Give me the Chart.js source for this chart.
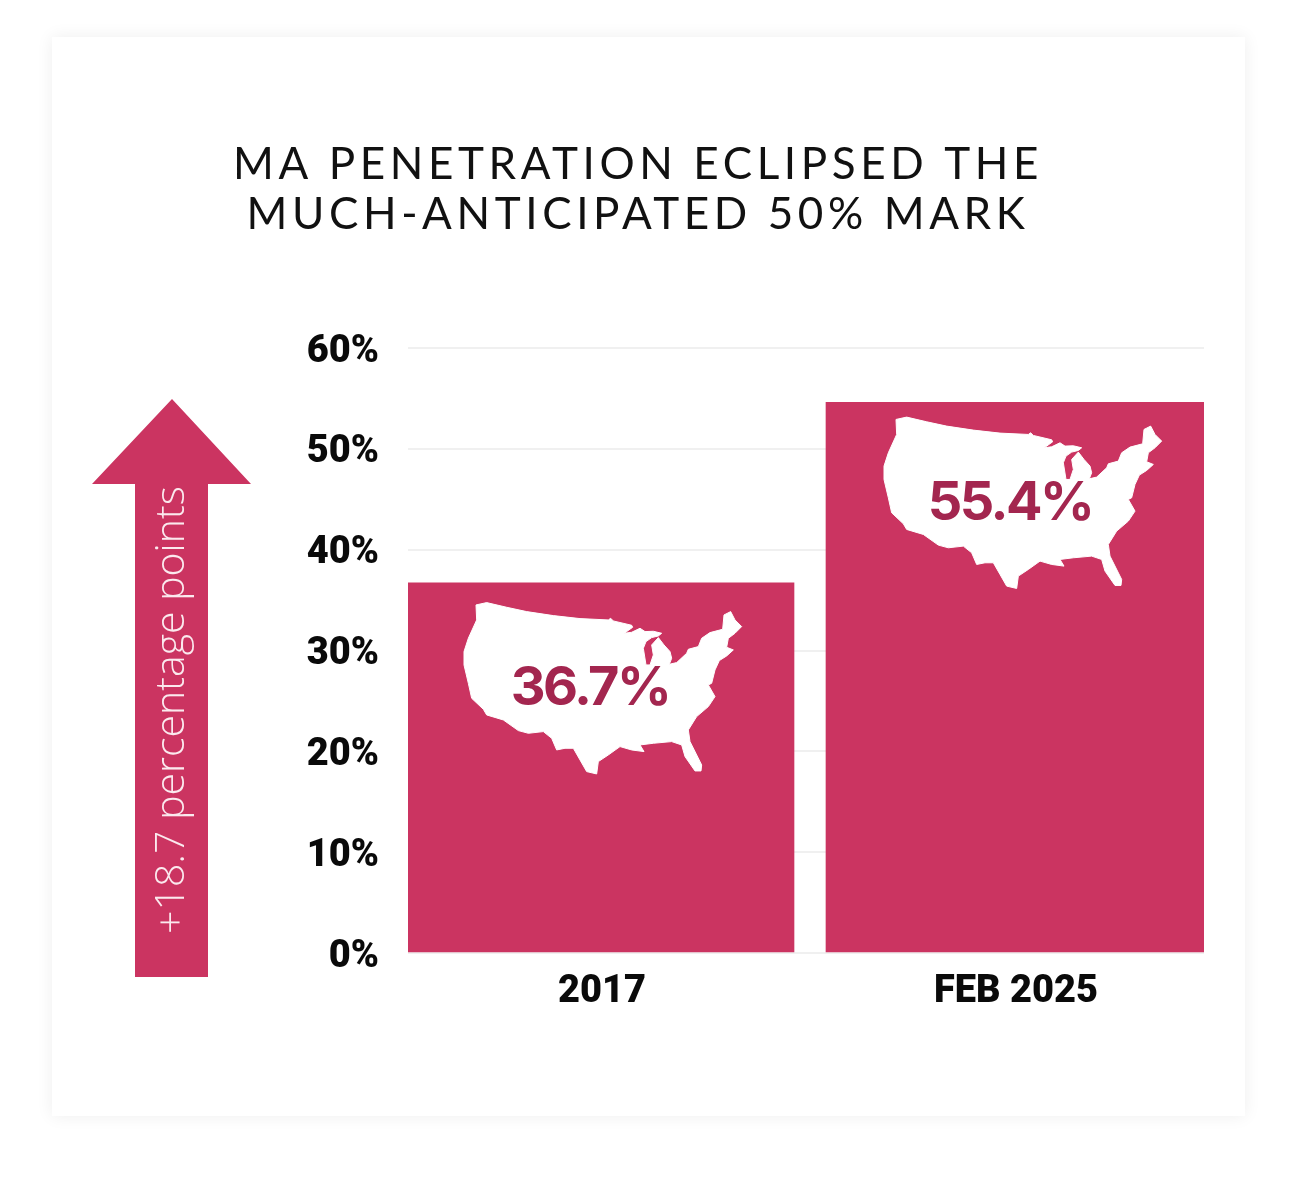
<!DOCTYPE html>
<html>
<head>
<meta charset="utf-8">
<title>MA penetration</title>
<script src="https://cdn.jsdelivr.net/npm/chart.js@4"></script>
<style>
  html, body { margin: 0; background: #fff; }
  #card { position: absolute; left: 52px; top: 37px; width: 1193px; height: 1079px; background: #fff; box-shadow: 0 0 16px rgba(0,0,0,0.07); }
  canvas { position: absolute; left: 0; top: 0; }
</style>
</head>
<body>
<div id="card"></div>
<canvas id="maChart" width="1302" height="1184"></canvas>
<script>
// data
const categories = ['2017', 'FEB 2025'];
const barHeights = [36.7, 54.6];   // the second bar is drawn lower than its printed label
const barLabels = ['36.7%', '55.4%'];
const yTicks = [0, 10, 20, 30, 40, 50, 60];
const titleLines = ['MA PENETRATION ECLIPSED THE', 'MUCH-ANTICIPATED 50% MARK'];
const arrowLabel = '+18.7 percentage points';

const PINK = '#cb3461';
const DARK_PINK = '#a3264f';

// US outline, traced in 3x pixels, drawn as decoration inside the bars
const usOutline = [[108,105],[140,98],[200,112],[260,125],[340,137],[420,146],[505,150],[512,145],[520,153],[575,166],[578,172],[553,190],[575,187],[600,175],[615,185],[640,184],[665,190],[655,198],[635,203],[618,215],[610,235],[618,285],[630,285],[640,255],[635,225],[655,203],[672,225],[690,245],[695,265],[688,283],[710,278],[740,250],[745,238],[775,230],[785,205],[810,188],[848,178],[852,135],[872,125],[885,150],[905,170],[885,190],[865,205],[860,232],[880,240],[860,258],[838,272],[825,300],[815,340],[805,345],[825,380],[805,410],[770,440],[745,480],[750,515],[785,585],[783,603],[765,603],[735,560],[725,525],[695,515],[640,520],[600,525],[612,545],[575,540],[540,530],[505,555],[475,575],[470,612],[440,605],[420,570],[400,535],[375,535],[350,540],[335,505],[310,485],[265,490],[235,482],[190,450],[140,435],[130,418],[95,385],[85,340],[72,285],[72,245],[85,205],[110,150]];

const extras = {
    id: 'extras',
    afterDraw(chart) {
        const ctx = chart.ctx;

        // title
        ctx.save();
        ctx.fillStyle = '#111';
        ctx.font = '400 44px Lato';
        ctx.letterSpacing = '4.6px';
        ctx.textAlign = 'center';
        ctx.textBaseline = 'middle';
        ctx.fillText(titleLines[0], 638, 165);
        ctx.fillText(titleLines[1], 638, 215);
        ctx.restore();

        // arrow
        ctx.save();
        ctx.fillStyle = PINK;
        ctx.beginPath();
        ctx.moveTo(172, 399);
        ctx.lineTo(251, 484);
        ctx.lineTo(208, 484);
        ctx.lineTo(208, 977);
        ctx.lineTo(135, 977);
        ctx.lineTo(135, 484);
        ctx.lineTo(92, 484);
        ctx.closePath();
        ctx.fill();
        ctx.translate(172, 710);
        ctx.rotate(-Math.PI / 2);
        ctx.fillStyle = '#fbe9ee';
        ctx.font = '300 41px "Open Sans"';
        ctx.textAlign = 'center';
        ctx.textBaseline = 'middle';
        ctx.fillText(arrowLabel, 0, 0);
        ctx.restore();

        // map and value label inside each bar
        const offsets = [[-161, -13], [-155, -18]];
        chart.data.datasets.forEach((ds, i) => {
            const bar = chart.getDatasetMeta(i).data[0];
            const ox = bar.x + offsets[i][0];
            const oy = bar.y + offsets[i][1];
            ctx.save();
            ctx.fillStyle = '#fff';
            ctx.strokeStyle = '#fff';
            ctx.lineWidth = 1;
            ctx.lineJoin = 'round';
            ctx.beginPath();
            usOutline.forEach(p => ctx.lineTo(ox + p[0] / 3, oy + p[1] / 3));
            ctx.closePath();
            ctx.fill();
            ctx.stroke();
            ctx.fillStyle = DARK_PINK;
            ctx.font = '700 54px Inter';
            ctx.letterSpacing = '-2.5px';
            ctx.textAlign = 'center';
            ctx.textBaseline = 'middle';
            ctx.fillText(barLabels[i], ox + 150, oy + 119);
            ctx.restore();
        });
    }
};

new Chart(document.getElementById('maChart'), {
    type: 'bar',
    data: {
        datasets: categories.map((c, i) => ({
            label: c,
            data: [{ x: i, y: barHeights[i] }],
            backgroundColor: PINK,
            borderWidth: 0,
            grouped: false,
            barThickness: i === 0 ? 386 : 378
        }))
    },
    options: {
        responsive: false,
        animation: false,
        devicePixelRatio: 1,
        layout: { padding: { left: 300, top: 348, right: 98, bottom: 170 } },
        plugins: { legend: { display: false }, tooltip: { enabled: false } },
        scales: {
            x: {
                type: 'linear',
                offset: false,
                min: -193 / 414,
                max: 603 / 414,
                grid: { display: false },
                border: { display: false },
                afterBuildTicks: s => { s.ticks = categories.map((c, i) => ({ value: i })); },
                afterFit: s => { s.height = 61; },
                ticks: {
                    autoSkip: false,
                    maxRotation: 0,
                    padding: 9,
                    labelOffset: 1,
                    color: '#0a0a0a',
                    font: { family: 'Roboto', weight: '900', size: 38 },
                    callback: v => categories[v]
                }
            },
            y: {
                min: 0,
                max: 60,
                grid: { color: '#f0f0f0', lineWidth: 2, drawTicks: false },
                border: { display: false },
                afterBuildTicks: s => { s.ticks = yTicks.map(v => ({ value: v })); },
                afterFit: s => { s.width = 108; },
                ticks: {
                    padding: 29,
                    labelOffset: 4,
                    color: '#0a0a0a',
                    font: { family: 'Roboto', weight: '900', size: 38 },
                    callback: v => v + '%'
                }
            }
        }
    },
    plugins: [extras]
});
</script>
</body>
</html>
